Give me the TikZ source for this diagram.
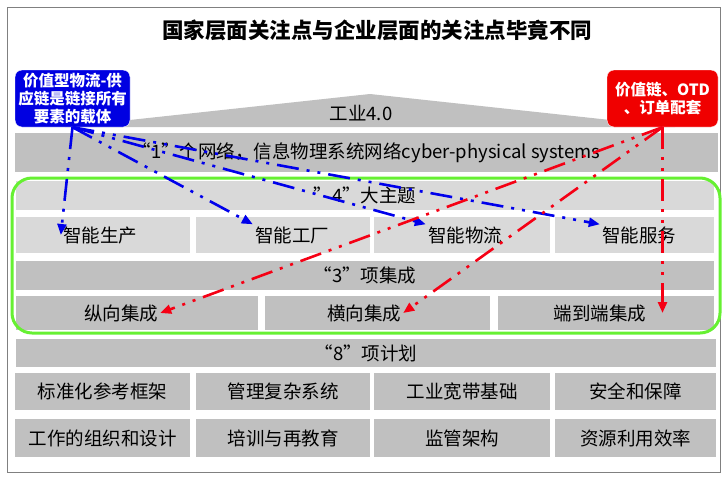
\documentclass[tikz,border=0pt]{standalone}
\usepackage{fontspec}
\setmainfont{Noto Sans CJK SC}
\usepackage{tikz}
\usetikzlibrary{arrows.meta, calc}
\definecolor{boxgray}{RGB}{192,192,192}
\definecolor{lightgray}{RGB}{217,217,217}
\definecolor{framegray}{RGB}{128,128,128}
\definecolor{frameGreen}{RGB}{102,240,50}
\definecolor{calloutBlue}{RGB}{0,0,225}
\definecolor{calloutRed}{RGB}{240,0,0}
\definecolor{linkBlue}{RGB}{0,0,235}
\definecolor{linkRed}{RGB}{245,0,20}
\newcommand{\boxfont}{\fontsize{18.5}{22}\selectfont}
\newcommand{\callfont}{\fontsize{15.5}{18}\selectfont\bfseries}
\tikzset{
    darkbox/.style={fill=boxgray, inner sep=0pt, font=\boxfont},
    lightbox/.style={fill=lightgray, inner sep=0pt, font=\boxfont},
    boxtext/.style={inner sep=2pt, font=\boxfont},
    headline/.style={font=\fontsize{21.5}{24}\selectfont\bfseries},
    bluecall/.style={fill=calloutBlue, draw=white, rounded corners=7pt, text=white, align=center, inner sep=1pt, font=\callfont},
    redcall/.style={fill=calloutRed, draw=white, rounded corners=7pt, text=white, align=center, inner sep=1pt, font=\callfont},
    bluelink/.style={draw=linkBlue, line width=2.6pt, dash pattern=on 22pt off 8pt on 3pt off 8pt on 3pt off 8pt, -{Triangle[length=11pt, width=9pt]}},
    redlink/.style={draw=linkRed, line width=2.6pt, dash pattern=on 22pt off 8pt on 3pt off 8pt on 3pt off 8pt, -{Triangle[length=11pt, width=9pt]}},
}

\begin{document}
\begin{tikzpicture}[x=1pt, y=-1pt]
    \useasboundingbox (0,0) rectangle (727,480);
    \draw[framegray, line width=1pt] (7,7) rectangle (720,472);
    \node[headline] (title) at (377,30) {国家层面关注点与企业层面的关注点毕竟不同};

    \fill[boxgray] (65,127) -- (370,94) -- (675,127) -- cycle;
    \node[boxtext] (roof) at (361,113) {工业4.0};

    \node[darkbox, minimum width=703, minimum height=39] (net) at (366.5,152.5) {“1”个网络，信息物理系统网络cyber-physical systems};

    \node[lightbox, minimum width=698, minimum height=29] (th4) at (365,195.5) {"4"大主题};
    \node[lightbox, minimum width=174, minimum height=36] (sp) at (103,235) {};
    \node[lightbox, minimum width=174, minimum height=36] (sf) at (283,235) {};
    \node[lightbox, minimum width=176, minimum height=36] (sl) at (462,235) {};
    \node[lightbox, minimum width=159, minimum height=36] (ss) at (634.5,235) {};
    \node[boxtext] (sp-t) at (100,235) {智能生产};
    \node[boxtext] (sf-t) at (292,235) {智能工厂};
    \node[boxtext] (sl-t) at (465,235) {智能物流};
    \node[boxtext] (ss-t) at (639,235) {智能服务};

    \node[darkbox, minimum width=698, minimum height=29] (in3) at (365,275.5) {“3”项集成};
    \node[darkbox, minimum width=242, minimum height=34] (zx) at (137,313) {};
    \node[darkbox, minimum width=225, minimum height=34] (hx) at (377.5,313) {};
    \node[darkbox, minimum width=216, minimum height=34] (ee) at (606,313) {};
    \node[boxtext] (zx-t) at (121,313) {纵向集成};
    \node[boxtext] (hx-t) at (364,313) {横向集成};
    \node[boxtext] (ee-t) at (600,313) {端到端集成};

    \draw[frameGreen, line width=3pt, rounded corners=20pt] (12,178) rectangle (720,333);

    \node[darkbox, minimum width=700, minimum height=28] (pl8) at (366,353) {“8”项计划};
    \node[darkbox, minimum width=175, minimum height=37] (a1) at (102.5,391.5) {标准化参考框架};
    \node[darkbox, minimum width=174, minimum height=37] (a2) at (283,391.5) {管理复杂系统};
    \node[darkbox, minimum width=176, minimum height=37] (a3) at (462,391.5) {工业宽带基础};
    \node[darkbox, minimum width=161, minimum height=37] (a4) at (635.5,391.5) {安全和保障};
    \node[darkbox, minimum width=175, minimum height=38] (b1) at (102.5,438) {工作的组织和设计};
    \node[darkbox, minimum width=174, minimum height=38] (b2) at (283,438) {培训与再教育};
    \node[darkbox, minimum width=176, minimum height=38] (b3) at (462,438) {监管架构};
    \node[darkbox, minimum width=161, minimum height=38] (b4) at (635.5,438) {资源利用效率};

    \node[bluecall, minimum width=115, minimum height=57] (vb) at (72.5,98.5) {价值型物流-供\\应链是链接所有\\要素的载体};
    \node[redcall, minimum width=111, minimum height=57] (rb) at (662.5,98.5) {价值链、OTD\\、订单配套};

    \draw[bluelink] (vb.south) -- (sp-t.west);
    \draw[bluelink] (vb.south) -- (sf-t.north west);
    \draw[bluelink] (vb.south) -- (sl-t.north west);
    \draw[bluelink] (vb.south) -- (ss-t.north west);

    \draw[redlink] (rb.south) -- (zx-t.east);
    \draw[redlink] (rb.south) -- (hx-t.east);
    \draw[redlink] (rb.south) -- (rb.south |- ee-t.east);
\end{tikzpicture}
\end{document}
